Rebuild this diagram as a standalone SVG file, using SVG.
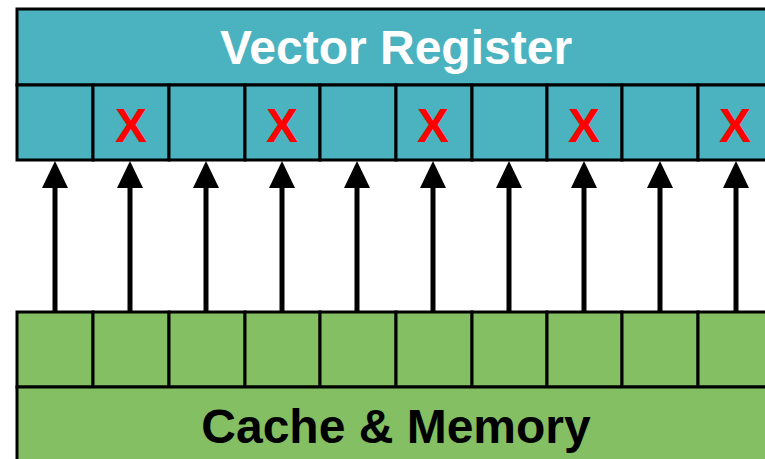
<svg xmlns="http://www.w3.org/2000/svg" width="765" height="459" viewBox="0 0 765 459">
<defs>
<style>
.reg{fill:#4BB2BF;stroke:#000;stroke-width:3}
.mem{fill:#85BF63;stroke:#000;stroke-width:3}
.title{font-family:"Liberation Sans",Arial,sans-serif;font-weight:bold;font-size:48px;text-anchor:middle}
.x{font-family:"Liberation Sans",Arial,sans-serif;font-weight:bold;font-size:48px;fill:#FF0000;text-anchor:middle}
.arr{stroke:#000;stroke-width:5}
</style>
<marker id="ah" markerUnits="userSpaceOnUse" markerWidth="27" markerHeight="26" refX="0" refY="13" orient="auto" viewBox="0 0 27 26">
<path d="M0,0 L27,13 L0,26 Z" fill="#000"/>
</marker>
</defs>
<rect width="765" height="459" fill="#fff"/>
<g id="vector-register">
<rect class="reg" x="17" y="9" width="760" height="76"/>
<text class="title" x="396" y="64" fill="#fff">Vector Register</text>
</g>
<g id="register-cells">
<rect class="reg" x="17" y="85" width="76" height="75"/>
<rect class="reg" x="93" y="85" width="76" height="75"/>
<rect class="reg" x="169" y="85" width="76" height="75"/>
<rect class="reg" x="245" y="85" width="75" height="75"/>
<rect class="reg" x="320" y="85" width="76" height="75"/>
<rect class="reg" x="396" y="85" width="76" height="75"/>
<rect class="reg" x="472" y="85" width="75" height="75"/>
<rect class="reg" x="547" y="85" width="75" height="75"/>
<rect class="reg" x="622" y="85" width="76" height="75"/>
<rect class="reg" x="698" y="85" width="80" height="75"/>
<text class="x" x="131" y="142">X</text>
<text class="x" x="282" y="142">X</text>
<text class="x" x="433" y="142">X</text>
<text class="x" x="584" y="142">X</text>
<text class="x" x="735" y="142">X</text>
</g>
<g id="connectors">
<line class="arr" x1="55" y1="311" x2="55" y2="188" marker-end="url(#ah)"/>
<line class="arr" x1="130" y1="311" x2="130" y2="188" marker-end="url(#ah)"/>
<line class="arr" x1="206" y1="311" x2="206" y2="188" marker-end="url(#ah)"/>
<line class="arr" x1="282" y1="311" x2="282" y2="188" marker-end="url(#ah)"/>
<line class="arr" x1="357" y1="311" x2="357" y2="188" marker-end="url(#ah)"/>
<line class="arr" x1="433" y1="311" x2="433" y2="188" marker-end="url(#ah)"/>
<line class="arr" x1="509" y1="311" x2="509" y2="188" marker-end="url(#ah)"/>
<line class="arr" x1="584" y1="311" x2="584" y2="188" marker-end="url(#ah)"/>
<line class="arr" x1="660" y1="311" x2="660" y2="188" marker-end="url(#ah)"/>
<line class="arr" x1="736" y1="311" x2="736" y2="188" marker-end="url(#ah)"/>
</g>
<g id="memory-cells">
<rect class="mem" x="17" y="312" width="76" height="75"/>
<rect class="mem" x="93" y="312" width="76" height="75"/>
<rect class="mem" x="169" y="312" width="76" height="75"/>
<rect class="mem" x="245" y="312" width="75" height="75"/>
<rect class="mem" x="320" y="312" width="76" height="75"/>
<rect class="mem" x="396" y="312" width="76" height="75"/>
<rect class="mem" x="472" y="312" width="75" height="75"/>
<rect class="mem" x="547" y="312" width="75" height="75"/>
<rect class="mem" x="622" y="312" width="76" height="75"/>
<rect class="mem" x="698" y="312" width="80" height="75"/>
</g>
<g id="cache-memory">
<rect class="mem" x="17" y="387" width="760" height="80"/>
<text class="title" x="396" y="443" fill="#000">Cache &amp; Memory</text>
</g>
</svg>
